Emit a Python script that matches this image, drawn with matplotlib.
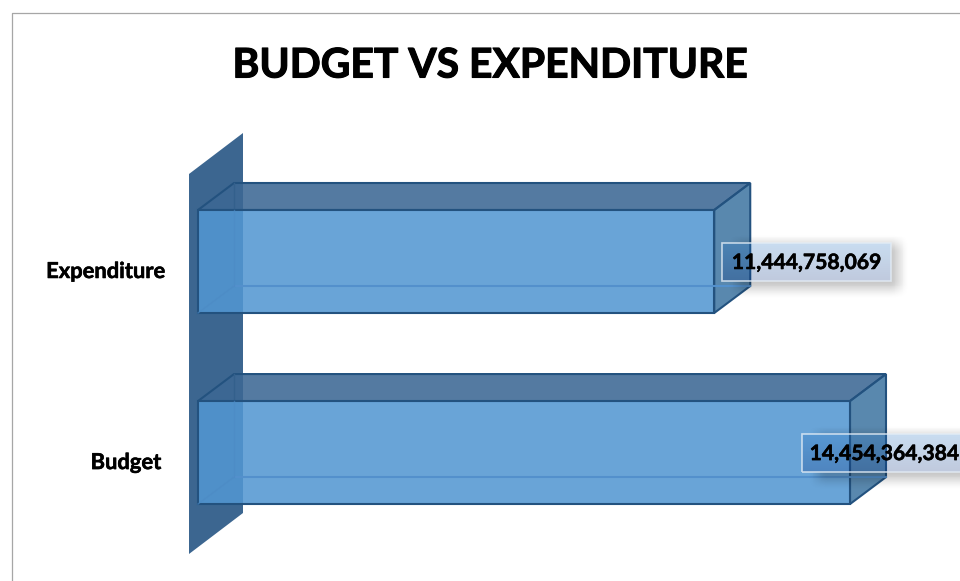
# coding=utf-8
"""
Budget vs expenditure, barras 3D falsas
"""

import numpy as np
import matplotlib
matplotlib.use('Agg')
import matplotlib.pyplot as plt
import matplotlib.patheffects as pe
from matplotlib.patches import Polygon, Rectangle

# Datos
categories = ['Budget', 'Expenditure']
values = [14454364384, 11444758069]
value_labels = ['14,454,364,384', '11,444,758,069']

# Constantes (en pixeles)
W, H = 960, 581
AX_L, AX_R, AX_T, AX_B = 198, 850, 174, 554
DX, DY = 36, 27  # profundidad de las barras
WALL_L, WALL_W, WALL_D = 9, 54, 41
BAR_H = 103
BOX_W, BOX_H = 169, 38
BOX_OFF = [-48, 8]  # caja respecto al final de la barra
TXT_OFF = [-2, 0]  # texto respecto al centro de la caja
CAT_X = [126, 106]

fig = plt.figure(figsize=(W / 100, H / 100), dpi=100)
plt.rcParams['font.family'] = ['Lato', 'DejaVu Sans']
ax = fig.add_axes([AX_L / W, 1 - AX_B / H, (AX_R - AX_L) / W, (AX_B - AX_T) / H])
ax.set_xlim(0, max(values))
ax.set_ylim(-0.531, 1.458)
ax.axis('off')

px = max(values) / (AX_R - AX_L)  # unidades de x por pixel
py = (1.458 + 0.531) / (AX_B - AX_T)  # unidades de y por pixel
grueso = [pe.withStroke(linewidth=0.4, foreground='black')]


def poly(pts, color, alpha=1.0, edge='none', lw=0, z=2):
    # Agrega un poligono con relleno transparente y borde opaco
    ax.add_patch(Polygon(pts, closed=True, facecolor=matplotlib.colors.to_rgba(color, alpha),
                         edgecolor=edge, linewidth=lw, clip_on=False, zorder=z, joinstyle='miter'))


def rampa(t, a, b, r):
    # Borde suave de la sombra
    s = np.clip((t - a + r) / (2 * r), 0, 1) * np.clip((b + r - t) / (2 * r), 0, 1)
    return s * s * (3 - 2 * s)


# Pared del eje
x0 = -WALL_L * px
x1 = x0 + WALL_W * px
d = WALL_D * py
y0, y1 = ax.get_ylim()
poly([(x0, y0), (x1, y0 + d), (x1, y1 + d), (x0, y1)], '#3C6690', z=1)

# Barras
edge = '#23527F'
dx = DX * px
dy = DY * py
bh = BAR_H * py
for i, v in enumerate(values):
    b, t = i - bh / 2, i + bh / 2
    # Caras de atras, se ven a traves del frente
    ax.plot([dx, dx], [t, t + dy], color='#33608C', lw=1.0, zorder=2.5, clip_on=False)
    poly([(0, t), (v, t), (v + dx, t + dy), (dx, t + dy)], '#3C6894', 0.88, edge, 1.5, 2)
    poly([(v, b), (v + dx, b + dy), (v + dx, t + dy), (v, t)], '#306A9A', 0.8, edge, 1.5, 2)
    poly([(0, b), (v, b), (v, t), (0, t)], '#5397D2', 0.87, edge, 1.5, 3)
    ax.plot([dx, v + dx], [b + dy, b + dy], color='#5390CC', lw=1.5, zorder=4, clip_on=False)
    ax.plot([dx, dx], [t, b + dy], color='#4C8AC4', lw=1.0, alpha=0.6, zorder=4, clip_on=False)
    ax.plot([0, dx], [b, b + dy], color='#4C8AC4', lw=1.0, alpha=0.6, zorder=4, clip_on=False)

# Rotulos de categorias
for i, c in enumerate(categories):
    xc = (CAT_X[i] - AX_L) * px
    ax.text(xc, i - 10 * py, c, ha='center', va='center', fontsize=15.8, fontweight='bold',
            color='black', zorder=8, clip_on=False, path_effects=grueso)

# Rotulos de valores
grad = np.linspace(0, 1, 64)[:, None]
for i, v in enumerate(values):
    bl = v + BOX_OFF[i] * px
    br = bl + BOX_W * px
    bb = i - BOX_H / 2 * py
    bt = bb + BOX_H * py
    # Sombra difusa, solo por fuera de la caja
    xs = np.linspace(-30, BOX_W + 30, 260)
    ys = np.linspace(-30, BOX_H + 30, 100)  # hacia abajo, desde el borde de arriba
    alfa = 0.22 * rampa(xs, 15, BOX_W + 9, 10)[None, :] * rampa(ys, 0, BOX_H + 9, 10)[:, None]
    alfa[(ys > 0) & (ys < BOX_H), :] *= ~((xs > 0) & (xs < BOX_W))
    sombra = np.zeros((100, 260, 4))
    sombra[..., 3] = alfa
    ax.imshow(sombra, extent=(bl - 30 * px, br + 30 * px, bb - 30 * py, bt + 30 * py),
              aspect='auto', zorder=5, clip_on=False, interpolation='nearest')
    # Caja con degradado
    rgba = np.zeros((64, 1, 4))
    rgba[..., 0] = (36 + (0 - 36) * grad) / 255
    rgba[..., 1] = (116 + (40 - 116) * grad) / 255
    rgba[..., 2] = (196 + (120 - 196) * grad) / 255
    rgba[..., 3] = 0.25
    ax.imshow(rgba, extent=(bl, br, bb, bt), aspect='auto', zorder=6, clip_on=False,
              interpolation='bilinear')
    ax.add_patch(Rectangle((bl, bb), br - bl, bt - bb, facecolor='none', edgecolor='#E4EDF6',
                           linewidth=1.2, alpha=0.8, clip_on=False, zorder=7))
    ax.text((bl + br) / 2 + TXT_OFF[i] * px, (bb + bt) / 2 - 1.5 * py, value_labels[i],
            ha='center', va='center', fontsize=15.2, fontweight='bold', color='black',
            zorder=8, clip_on=False, path_effects=grueso)

ax.set_xlim(0, max(values))
ax.set_ylim(y0, y1)

# Titulo
fig.text(490 / W, 1 - 66 / H, 'BUDGET VS EXPENDITURE', ha='center', va='center',
         fontsize=29.4, fontweight='bold', color='black',
         path_effects=[pe.withStroke(linewidth=0.8, foreground='black')])

# Marco del grafico
fig.add_artist(plt.Line2D([12 / W, 12 / W, 1], [0, 1 - 13 / H, 1 - 13 / H], color='#A6A6A6', lw=0.9))

fig.savefig('out.png', dpi=100)
